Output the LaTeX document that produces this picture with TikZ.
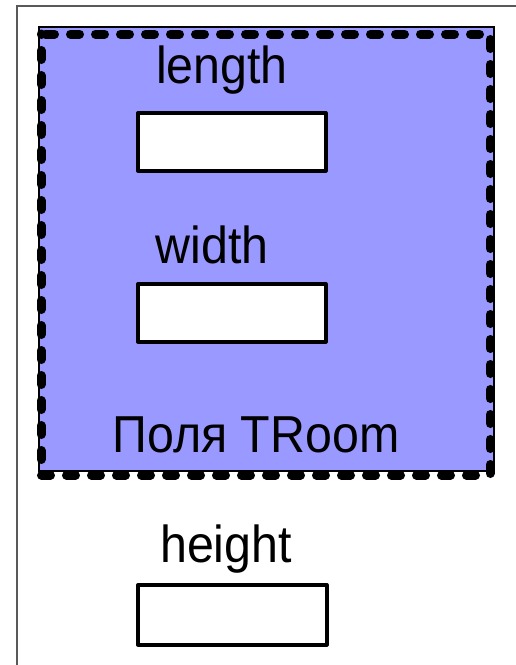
\documentclass[tikz,border=0pt]{standalone}
\usepackage{fontspec}
\setmainfont{Liberation Sans}
\definecolor{roomblue}{HTML}{9999FF}
\tikzset{
  fieldbox/.style={draw=black, line width=4pt, fill=white, line join=round},
  lbl/.style={anchor=base, inner sep=0pt, font=\fontsize{52}{60}\selectfont},
}
\newcommand{\sqz}[1]{\scalebox{0.93}[1]{#1}}
\begin{document}
\begin{tikzpicture}[x=1pt,y=-1pt]
\useasboundingbox (0,0) rectangle (516,665);
\fill[white] (0,0) rectangle (516,665);
% outer frame
\draw[line width=1.4pt, draw=black!65] (17,668) -- (17,6) -- (519,6);
% TRoom area
\draw[fill=roomblue, draw=black, line width=1.2pt] (39,27) rectangle (494,471);
\draw[line width=9pt, line cap=round, dash pattern=on 9pt off 16pt, dash phase=-4.5pt]
  (41,34) -- (490,34) -- (490,475) -- (41,475) -- cycle;
% labels
\node[lbl] (tl) at (222,83) {\sqz{length}};
\node[lbl] (tw) at (212,263) {\sqz{width}};
\node[lbl] (tr) at (256,452) {\sqz{Поля TRoom}};
\node[lbl] (th) at (226,562) {\sqz{height}};
% field boxes
\draw[fieldbox] (138,113) rectangle (325.5,170.5) coordinate (bl);
\draw[fieldbox] (138,284) rectangle (325.5,341.5) coordinate (bw);
\draw[fieldbox] (138,585) rectangle (326.5,644.5) coordinate (bh);
\end{tikzpicture}
\end{document}
